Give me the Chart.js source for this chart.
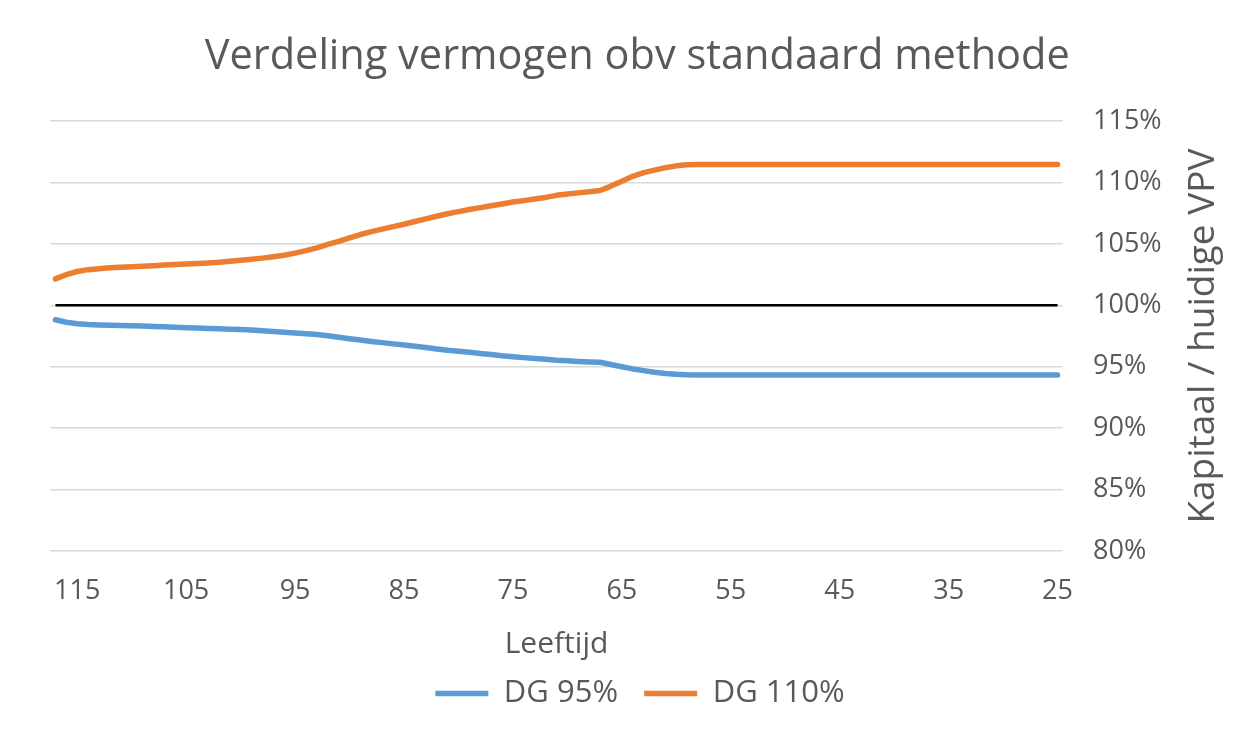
<!DOCTYPE html>
<html>
<head>
<meta charset="utf-8">
<script src="https://cdn.jsdelivr.net/npm/chart.js@4.4.1/dist/chart.umd.min.js"></script>
<style>
  html, body { margin: 0; padding: 0; background: #ffffff; }
  #wrap { width: 1246px; height: 745px; position: relative; }
</style>
</head>
<body>
<div id="wrap"><canvas id="c"></canvas></div>
<script>
const chartTitle = 'Verdeling vermogen obv standaard methode';
const xTitle = 'Leeftijd';
const yTitle = 'Kapitaal / huidige VPV';
const seriesNames = ['DG 95%', 'DG 110%'];

const ages = [117,116,115,114,113,112,111,110,109,108,
              107,106,105,104,103,102,101,100,99,98,
              97,96,95,94,93,92,91,90,89,88,
              87,86,85,84,83,82,81,80,79,78,
              77,76,75,74,73,72,71,70,69,68,
              67,66,65,64,63,62,61,60,59,58,
              57,56,55,54,53,52,51,50,49,48,
              47,46,45,44,43,42,41,40,39,38,
              37,36,35,34,33,32,31,30,29,28,
              27,26,25];

const dg95 = [98.82,98.62,98.50,98.44,98.40,98.37,98.35,98.33,98.31,98.28,
              98.25,98.22,98.18,98.15,98.12,98.09,98.05,98.02,97.98,97.92,
              97.86,97.80,97.74,97.68,97.62,97.52,97.40,97.28,97.17,97.06,
              96.96,96.86,96.76,96.66,96.56,96.45,96.34,96.25,96.17,96.08,
              96.00,95.90,95.82,95.74,95.67,95.60,95.53,95.48,95.43,95.39,
              95.36,95.18,95.00,94.82,94.68,94.55,94.45,94.38,94.34,94.33,
              94.33,94.33,94.33,94.33,94.33,94.33,94.33,94.33,94.33,94.33,
              94.33,94.33,94.33,94.33,94.33,94.33,94.33,94.33,94.33,94.33,
              94.33,94.33,94.33,94.33,94.33,94.33,94.33,94.33,94.33,94.33,
              94.33,94.33,94.33];

const dg110 = [102.15,102.50,102.75,102.90,102.98,103.05,103.10,103.14,103.18,103.22,
               103.27,103.32,103.36,103.40,103.45,103.50,103.58,103.66,103.74,103.84,
               103.95,104.07,104.25,104.45,104.68,104.95,105.20,105.48,105.76,106.00,
               106.20,106.40,106.60,106.82,107.03,107.25,107.45,107.62,107.80,107.95,
               108.10,108.25,108.40,108.52,108.65,108.78,108.95,109.05,109.15,109.25,
               109.34,109.70,110.10,110.50,110.80,111.00,111.20,111.35,111.43,111.45,
               111.45,111.45,111.45,111.45,111.45,111.45,111.45,111.45,111.45,111.45,
               111.45,111.45,111.45,111.45,111.45,111.45,111.45,111.45,111.45,111.45,
               111.45,111.45,111.45,111.45,111.45,111.45,111.45,111.45,111.45,111.45,
               111.45,111.45,111.45];

const referenceLevel = 100;
const referenceLine = ages.map(() => referenceLevel);

const yMin = 80, yMax = 115, yStep = 5;

const TEXT = '#595959';
const FONT = "'Open Sans', 'DejaVu Sans', sans-serif";

const yTitlePlugin = {
  id: 'yTitleLeftRotated',
  afterDraw(chart) {
    const ctx = chart.ctx;
    const area = chart.chartArea;
    ctx.save();
    ctx.fillStyle = TEXT;
    ctx.font = "37px " + FONT;
    ctx.textAlign = 'center';
    ctx.textBaseline = 'middle';
    ctx.translate(1203, (area.top + area.bottom) / 2);
    ctx.rotate(-Math.PI / 2);
    ctx.fillText(yTitle, 0, 0);
    ctx.restore();
  }
};

new Chart(document.getElementById('c'), {
  type: 'line',
  data: {
    labels: ages,
    datasets: [
      {
        label: seriesNames[0],
        data: dg95,
        borderColor: '#5B9BD5',
        backgroundColor: '#5B9BD5',
        borderWidth: 5.5,
        borderCapStyle: 'round',
        borderJoinStyle: 'round',
        pointRadius: 0,
        tension: 0
      },
      {
        label: seriesNames[1],
        data: dg110,
        borderColor: '#ED7D31',
        backgroundColor: '#ED7D31',
        borderWidth: 5.5,
        borderCapStyle: 'round',
        borderJoinStyle: 'round',
        pointRadius: 0,
        tension: 0
      },
      {
        label: '100%',
        data: referenceLine,
        borderColor: '#000000',
        backgroundColor: '#000000',
        borderWidth: 2.5,
        pointRadius: 0,
        tension: 0
      }
    ]
  },
  options: {
    responsive: true,
    maintainAspectRatio: false,
    animation: false,
    layout: { padding: { left: 50, right: 0, top: 0, bottom: 26 } },
    plugins: {
      title: {
        display: true,
        text: chartTitle + '\u00a0\u00a0',
        color: TEXT,
        font: { family: FONT, size: 41.5, weight: '400' },
        padding: { top: 32, bottom: 39.2 }
      },
      legend: {
        display: true,
        position: 'bottom',
        labels: {
          color: TEXT,
          font: { family: FONT, size: 31 },
          usePointStyle: true,
          pointStyle: 'line',
          pointStyleWidth: 53,
          padding: 10,
          filter: (item) => item.datasetIndex < 2,
          generateLabels: (chart) => {
            const items = Chart.defaults.plugins.legend.labels.generateLabels(chart);
            items.forEach(it => { it.text = it.text + '\u00a0\u00a0'; });
            return items;
          }
        }
      },
      tooltip: { enabled: false }
    },
    scales: {
      x: {
        type: 'category',
        offset: true,
        grid: { display: false, drawTicks: false },
        border: { display: false },
        ticks: {
          color: TEXT,
          font: { family: FONT, size: 27 },
          autoSkip: false,
          maxRotation: 0,
          padding: 24,
          callback: function (val, idx) {
            const a = ages[idx];
            return (a % 10 === 5) ? String(a) : '';
          }
        },
        title: {
          display: true,
          text: xTitle,
          color: TEXT,
          font: { family: FONT, size: 30 },
          padding: { top: -5.4, bottom: 6 }
        }
      },
      y: {
        position: 'right',
        min: yMin,
        max: yMax,
        grid: { color: '#d9d9d9', lineWidth: 1.5, drawTicks: false },
        border: { display: false },
        ticks: {
          stepSize: yStep,
          color: TEXT,
          font: { family: FONT, size: 27 },
          padding: 30,
          callback: (v) => v + '%'
        },
        afterFit: (scale) => { scale.width = 183; }
      }
    }
  },
  plugins: [yTitlePlugin]
});
</script>
</body>
</html>
